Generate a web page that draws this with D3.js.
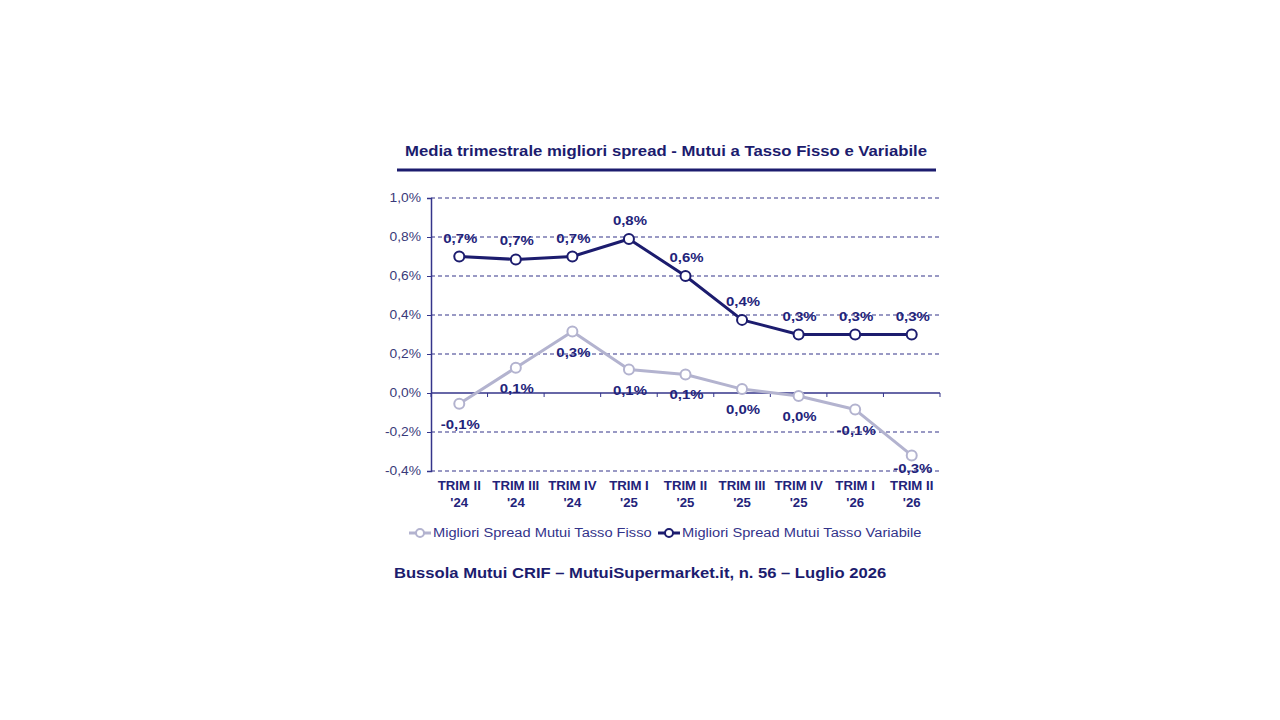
<!DOCTYPE html>
<html><head><meta charset="utf-8">
<script src="https://cdn.jsdelivr.net/npm/d3@7"></script>
<style>body{margin:0;background:#fff;}svg{display:block;}</style>
</head><body>
<svg id="c" width="1280" height="720"></svg>
<script>
const categories = [["TRIM II","'24"],["TRIM III","'24"],["TRIM IV","'24"],["TRIM I","'25"],["TRIM II","'25"],["TRIM III","'25"],["TRIM IV","'25"],["TRIM I","'26"],["TRIM II","'26"]];
const fisso = [-0.055, 0.13, 0.315, 0.12, 0.095, 0.02, -0.015, -0.085, -0.32];
const variabile = [0.70, 0.685, 0.70, 0.79, 0.60, 0.375, 0.30, 0.30, 0.30];
const fissoLabels = ["-0,1%","0,1%","0,3%","0,1%","0,1%","0,0%","0,0%","-0,1%","-0,3%"];
const variabileLabels = ["0,7%","0,7%","0,7%","0,8%","0,6%","0,4%","0,3%","0,3%","0,3%"];
const yTicks = [1.0, 0.8, 0.6, 0.4, 0.2, 0.0, -0.2, -0.4];
const seriesNames = ["Migliori Spread Mutui Tasso Fisso","Migliori Spread Mutui Tasso Variabile"];
const title = "Media trimestrale migliori spread - Mutui a Tasso Fisso e Variabile";
const footer = "Bussola Mutui CRIF \u2013 MutuiSupermarket.it, n. 56 \u2013 Luglio 2026";

const NAVY = "#1c1c6e", TXT = "#23237a", GRID = "#34348a", LIGHT = "#b3b3cf";
const FONT = "Liberation Sans, Arial, sans-serif";
const svg = d3.select("#c").style("font-family", FONT);

// widen text horizontally (reference glyphs are stretched)
function widen(sel, f){
  sel.each(function(){
    const w = this.getComputedTextLength();
    d3.select(this).attr("textLength", w*f).attr("lengthAdjust","spacingAndGlyphs");
  });
}

const x = d3.scaleBand().domain(d3.range(categories.length)).range([431, 940]);
const y = d3.scaleLinear().domain([-0.4, 1.0]).range([471, 198]);
const cx = i => x(i) + x.bandwidth()/2;

// title
const tt = svg.append("text").attr("x", 666).attr("y", 156).attr("text-anchor","middle")
  .attr("font-size", 15.5).attr("font-weight","bold").attr("fill", NAVY).text(title);
widen(tt, 1.077);
svg.append("line").attr("x1",397).attr("x2",936).attr("y1",170).attr("y2",170)
  .attr("stroke", NAVY).attr("stroke-width",3);

// gridlines
svg.append("g").selectAll("line").data(yTicks.filter(t=>t!==0)).join("line")
  .attr("x1",431).attr("x2",940).attr("y1",d=>y(d)).attr("y2",d=>y(d))
  .attr("stroke",GRID).attr("stroke-width",1.2).attr("stroke-dasharray","4,3");

// y axis
const yAxis = d3.axisLeft(y).tickValues(yTicks).tickSize(4)
  .tickFormat(d => d3.format(".1f")(d).replace(".",",").replace("−","-") + "%");
const gy = svg.append("g").attr("transform","translate(431,0)").call(yAxis);
gy.select(".domain").attr("stroke",GRID).attr("stroke-width",1.5);
gy.selectAll(".tick line").attr("stroke",GRID);
gy.selectAll("text").attr("font-size",12).attr("fill","#3a3a7a").attr("font-family",FONT).attr("x",-10);
widen(gy.selectAll("text"), 1.15);

// x axis at zero
const gx = svg.append("g").attr("transform",`translate(0,${y(0)})`);
gx.append("line").attr("x1",431).attr("x2",940).attr("stroke",GRID).attr("stroke-width",1.5);
gx.selectAll("line.t").data(d3.range(categories.length+1)).join("line").attr("class","t")
  .attr("x1",i=>431+i*x.step()).attr("x2",i=>431+i*x.step()).attr("y1",0).attr("y2",4)
  .attr("stroke",GRID);

// category labels
const cl = svg.append("g").selectAll("g").data(categories).join("g");
const c1 = cl.append("text").attr("x",(d,i)=>cx(i)).attr("y",490).attr("text-anchor","middle")
  .attr("font-size",12).attr("font-weight","bold").attr("fill",TXT).text(d=>d[0]);
const c2 = cl.append("text").attr("x",(d,i)=>cx(i)).attr("y",507).attr("text-anchor","middle")
  .attr("font-size",12).attr("font-weight","bold").attr("fill",TXT).text(d=>d[1]);
widen(c1, 1.1); widen(c2, 1.1);

const line = d3.line().x((d,i)=>cx(i)).y(d=>y(d));
const plotBottom = y(-0.4);
function series(data, color, labels, dy){
  svg.append("path").datum(data).attr("d",line).attr("fill","none")
    .attr("stroke",color).attr("stroke-width",3).attr("stroke-linejoin","round");
  svg.append("g").selectAll("circle").data(data).join("circle")
    .attr("cx",(d,i)=>cx(i)).attr("cy",d=>y(d)).attr("r",5)
    .attr("fill","#fff").attr("stroke",color).attr("stroke-width",2);
  const t = svg.append("g").selectAll("text").data(data).join("text")
    .attr("x",(d,i)=>cx(i)+1).attr("y",d=>Math.min(y(d)+dy, plotBottom+1.5)).attr("text-anchor","middle")
    .attr("font-size",13).attr("font-weight","bold").attr("fill",TXT).text((d,i)=>labels[i]);
  widen(t, 1.15);
}
series(fisso, LIGHT, fissoLabels, 25);
series(variabile, NAVY, variabileLabels, -14);

// legend
const leg = [{name:seriesNames[0], color:LIGHT, x:409},{name:seriesNames[1], color:NAVY, x:658}];
const lg = svg.append("g").selectAll("g").data(leg).join("g").attr("transform",d=>`translate(${d.x},533)`);
lg.append("line").attr("x1",0).attr("x2",22).attr("stroke",d=>d.color).attr("stroke-width",3);
lg.append("circle").attr("cx",11).attr("r",4).attr("fill","#fff").attr("stroke",d=>d.color).attr("stroke-width",2);
const lt = lg.append("text").attr("x",24).attr("y",4).attr("font-size",12).attr("fill","#33338a").text(d=>d.name);
widen(lt, 1.22);

// footer
const ft = svg.append("text").attr("x",394).attr("y",578).attr("font-size",15.5).attr("font-weight","bold")
  .attr("fill",NAVY).text(footer);
widen(ft, 1.07);
</script>
</body></html>
